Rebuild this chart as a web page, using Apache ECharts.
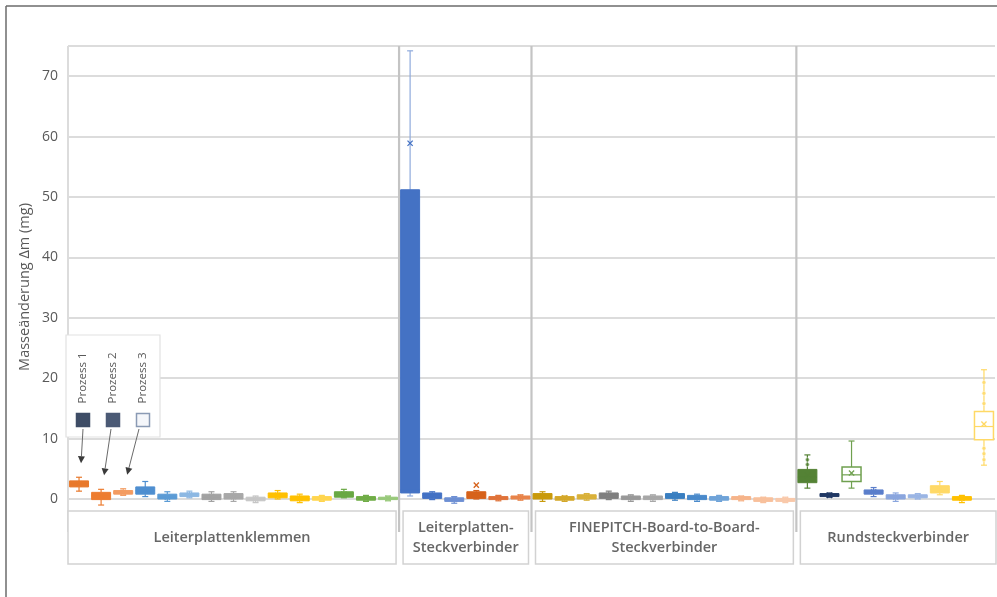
<!DOCTYPE html>
<html>
<head>
<meta charset="utf-8">
<script src="https://cdn.jsdelivr.net/npm/echarts@6/dist/echarts.min.js"></script>
<style>
  html, body { margin: 0; padding: 0; background: #ffffff; }
  #chart { width: 997px; height: 597px; }
</style>
</head>
<body>
<div id="chart"></div>
<script>
// Connector families and how many specimens (3 processes per type) each holds
const groupNames = ['Leiterplattenklemmen', 'Leiterplatten-\nSteckverbinder', 'FINEPITCH-Board-to-Board-\nSteckverbinder', 'Rundsteckverbinder'];
const groupSizes = [15, 6, 12, 9];
const processNames = ['Prozess 1', 'Prozess 2', 'Prozess 3'];
const yTicks = [0, 10, 20, 30, 40, 50, 60, 70];

// Box-plot statistics of the mass change per specimen (mg)
const boxMin    = [1.3, -1.0, 0.6, 0.4, -0.4, 0.2, -0.4, -0.4, -0.6, 0.0, -0.6, -0.4, 0.2, -0.4, -0.3,
                   0.5, -0.1, -0.7, 0.0, -0.3, -0.2,
                   -0.4, -0.4, -0.2, -0.1, -0.4, -0.4, -0.2, -0.4, -0.4, -0.3, -0.6, -0.6,
                   1.8, 0.3, 1.8, 0.4, -0.4, 0.0, 0.7, -0.6, 5.6];
const boxQ1     = [2.0, -0.1, 0.8, 0.8, 0.0, 0.4, -0.1, 0.0, -0.3, 0.2, -0.3, -0.2, 0.3, -0.2, -0.1,
                   1.0, 0.1, -0.4, 0.1, -0.1, 0.0,
                   0.0, -0.2, 0.0, 0.1, -0.1, -0.1, 0.1, -0.1, -0.2, -0.1, -0.4, -0.4,
                   2.7, 0.4, 2.9, 0.8, 0.0, 0.2, 1.0, -0.2, 9.8];
const boxMedian = [2.5, 0.5, 1.1, 1.4, 0.3, 0.7, 0.4, 0.4, 0.0, 0.6, 0.1, 0.1, 0.8, 0.1, 0.1,
                   1.5, 0.6, 0.0, 0.7, 0.2, 0.3,
                   0.5, 0.2, 0.4, 0.6, 0.2, 0.2, 0.5, 0.2, 0.1, 0.1, -0.1, -0.1,
                   3.6, 0.6, 4.0, 1.2, 0.3, 0.4, 1.6, 0.1, 12.0];
const boxQ3     = [3.0, 1.1, 1.4, 2.0, 0.8, 1.0, 0.8, 0.9, 0.3, 1.0, 0.5, 0.4, 1.2, 0.4, 0.3,
                   51.2, 1.0, 0.2, 1.2, 0.4, 0.5,
                   0.9, 0.4, 0.7, 1.0, 0.5, 0.5, 0.9, 0.6, 0.4, 0.4, 0.2, 0.1,
                   4.9, 0.9, 5.3, 1.5, 0.7, 0.7, 2.2, 0.4, 14.5];
const boxMax    = [3.6, 1.6, 1.7, 2.9, 1.2, 1.3, 1.2, 1.2, 0.5, 1.4, 0.8, 0.6, 1.6, 0.6, 0.5,
                   74.2, 1.2, 0.4, 1.4, 0.6, 0.7,
                   1.2, 0.5, 0.9, 1.3, 0.7, 0.7, 1.1, 0.8, 0.6, 0.5, 0.3, 0.3,
                   7.3, 1.0, 9.6, 1.9, 1.0, 0.9, 2.9, 0.6, 21.4];
const boxMean   = [2.5, 0.5, 1.1, 1.4, 0.3, 0.7, 0.4, 0.4, 0.0, 0.6, 0.1, 0.1, 0.8, 0.1, 0.1,
                   58.9, 0.6, 0.0, 2.3, 0.2, 0.3,
                   0.5, 0.2, 0.4, 0.6, 0.2, 0.2, 0.5, 0.2, 0.1, 0.1, -0.1, -0.1,
                   3.9, 0.6, 4.3, 1.2, 0.3, 0.4, 1.6, 0.1, 12.4];

// Individual measurements drawn on top of the whiskers: [specimen index, value]
const innerPoints = [[33, 6.5], [33, 5.7], [41, 19.3], [41, 17.5], [41, 15.8], [41, 8.4], [41, 7.5], [41, 6.5]];

// Colour of each specimen; hollow boxes are drawn as outlines only
const boxColors = ['#e8792c', '#ed7d31', '#f39c62', '#4f8fd0', '#5b9bd5', '#8db8e3',
                   '#a2a2a2', '#a8a8a8', '#c6c6c6', '#ffc000', '#ffc000', '#ffd54f',
                   '#69a843', '#70ad47', '#98c97a',
                   '#4472c4', '#4472c4', '#6d8fd3', '#d6621b', '#e0733a', '#e8844a',
                   '#c99a0c', '#d4a82a', '#d9b13a', '#7f7f7f', '#999999', '#a8a8a8',
                   '#3a7fc1', '#4a8acb', '#6fa3d8', '#f6b48a', '#f8c09c', '#f9c9aa',
                   '#548235', '#203864', '#6fa04f', '#5b7fcb', '#8aa6de', '#9ab5e4',
                   '#ffd966', '#ffc000', '#ffd966'];
const hollowBox = boxColors.map((c, i) => i === 35 || i === 41);

const specimenIds = boxMin.map((_, i) => 'P' + (i + 1));

const GRID_LEFT = 68, GRID_RIGHT = 2, GRID_TOP = 46, GRID_BOTTOM = 98;
const W = 997, H = 597;
const TEXT = '#595959';
const FONT = '"Open Sans", "Liberation Sans", sans-serif';

function renderBox(params, api) {
  const i = api.value(0);
  const x = api.coord([i, 0])[0];
  const py = k => api.coord([i, api.value(k)])[1];
  const yMin = py(1), yQ1 = py(2), yMed = py(3), yQ3 = py(4), yMax = py(5), yMean = py(6);
  const bw = api.size([1, 0])[0] * 0.86;
  const cap = 6;
  const col = boxColors[i];
  const hollow = hollowBox[i];
  const whiskerCol = i === 15 ? '#8faadc' : col;
  const line = (x1, y1, x2, y2, w, c) => ({
    type: 'line', shape: { x1, y1, x2, y2 },
    style: { stroke: c || col, lineWidth: w || 1.2 }
  });
  const m = 2.6;
  const children = [
    line(x, yMin, x, yQ1, 1.2, whiskerCol),
    line(x, yQ3, x, yMax, 1.2, whiskerCol),
    line(x - cap / 2, yMin, x + cap / 2, yMin, 1.2, whiskerCol),
    line(x - cap / 2, yMax, x + cap / 2, yMax, 1.2, whiskerCol),
    {
      type: 'rect',
      shape: { x: x - bw / 2, y: yQ3, width: bw, height: Math.max(yQ1 - yQ3, 1.5) },
      style: { fill: hollow ? '#ffffff' : col, stroke: col, lineWidth: hollow ? 1.5 : 1 }
    },
    line(x - bw / 2, yMed, x + bw / 2, yMed, 1.2),
    line(x - m, yMean - m, x + m, yMean + m, 1.3),
    line(x - m, yMean + m, x + m, yMean - m, 1.3)
  ];
  return { type: 'group', children };
}

const boxData = boxMin.map((v, i) => [i, boxMin[i], boxQ1[i], boxMedian[i], boxQ3[i], boxMax[i], boxMean[i]]);

const chart = echarts.init(document.getElementById('chart'), null, { renderer: 'canvas' });

chart.setOption({
  animation: false,
  backgroundColor: '#ffffff',
  textStyle: { fontFamily: FONT },
  grid: { left: GRID_LEFT, right: GRID_RIGHT, top: GRID_TOP, bottom: GRID_BOTTOM, containLabel: false },
  xAxis: {
    type: 'category',
    data: specimenIds,
    boundaryGap: true,
    axisLine: { show: false },
    axisTick: { show: false },
    axisLabel: { show: false },
    splitLine: { show: false }
  },
  yAxis: {
    type: 'value',
    min: yTicks[0],
    max: 75,
    interval: yTicks[1] - yTicks[0],
    axisLine: { show: false },
    axisTick: { show: false },
    axisLabel: { color: TEXT, fontSize: 14, margin: 10, showMaxLabel: false, fontFamily: FONT },
    splitLine: { show: true, lineStyle: { color: '#dcdcdc', width: 2 } }
  },
  series: [
    {
      type: 'custom',
      name: 'Masseänderung',
      renderItem: renderBox,
      clip: false,
      encode: { x: 0, y: [1, 2, 3, 4, 5] },
      data: boxData,
      z: 3
    },
    {
      type: 'scatter',
      data: innerPoints,
      symbol: 'circle',
      symbolSize: 4,
      itemStyle: {
        color: p => boxColors[p.value[0]],
        borderColor: '#ffffff', borderWidth: 0.5
      },
      z: 4
    }
  ]
});

// Layout helpers shared by the frame, group labels and annotation
const plotRight = W - GRID_RIGHT;
const catW = (plotRight - GRID_LEFT) / boxMin.length;
const yPx = v => chart.convertToPixel({ yAxisIndex: 0 }, v);
const xPx = i => chart.convertToPixel({ xAxisIndex: 0 }, i);

const g = [];

// Outer frame (top and left edges)
g.push({ type: 'line', shape: { x1: 6, y1: 6, x2: W, y2: 6 }, style: { stroke: '#6b6b6b', lineWidth: 1.5 } });
g.push({ type: 'line', shape: { x1: 6, y1: 6, x2: 6, y2: H }, style: { stroke: '#6b6b6b', lineWidth: 1.5 } });

// Plot area left edge
const plotTop = yPx(75);
const sepBottom = 532;
g.push({ type: 'line', shape: { x1: GRID_LEFT, y1: plotTop, x2: GRID_LEFT, y2: sepBottom }, style: { stroke: '#dcdcdc', lineWidth: 2 } });

// Group separators and group label boxes
let start = 0;
const boxTop = 511, boxBottom = 564;
groupSizes.forEach((n, gi) => {
  const x0 = GRID_LEFT + start * catW;
  const x1 = GRID_LEFT + (start + n) * catW;
  if (gi < groupSizes.length - 1) {
    g.push({ type: 'line', shape: { x1: x1, y1: plotTop, x2: x1, y2: sepBottom },
             style: { stroke: '#c4c4c4', lineWidth: 2.2 }, z: 2 });
  }
  const left = gi === 0 ? GRID_LEFT : x0 + 4;
  const right = gi === groupSizes.length - 1 ? W - 1 : x1 - 3;
  g.push({ type: 'rect', shape: { x: left, y: boxTop, width: right - left, height: boxBottom - boxTop },
           style: { fill: '#ffffff', stroke: '#d2d2d2', lineWidth: 1.5 }, z: 3 });
  g.push({ type: 'text', x: (left + right) / 2, y: (boxTop + boxBottom) / 2, z: 4,
           style: { text: groupNames[gi], fill: '#666666', font: '600 14.5px ' + FONT,
                    align: 'center', verticalAlign: 'middle', lineHeight: 20 } });
  start += n;
});

// Axis title
g.push({ type: 'text', x: 25, y: 287, rotation: Math.PI / 2, z: 4,
         style: { text: 'Masseänderung Δm (mg)', fill: TEXT, font: '14.5px ' + FONT,
                  align: 'center', verticalAlign: 'middle' } });

// Process key with arrows pointing at the first three specimens
const keyLeft = 66, keyTop = 335, keyRight = 160, keyBottom = 437;
g.push({ type: 'rect', shape: { x: keyLeft, y: keyTop, width: keyRight - keyLeft, height: keyBottom - keyTop },
         style: { fill: '#ffffff', stroke: '#e2e2e2', lineWidth: 1.2 }, z: 20 });
const keyX = [83, 113, 143];
const keyFill = ['#3e4d66', '#4b5a75', '#f4f6fa'];
const keyStroke = ['#3e4d66', '#4b5a75', '#8a9ab4'];
processNames.forEach((name, k) => {
  g.push({ type: 'text', x: keyX[k], y: 378, rotation: Math.PI / 2, z: 21,
           style: { text: name, fill: TEXT, font: '11.5px ' + FONT, align: 'center', verticalAlign: 'middle' } });
  g.push({ type: 'rect', shape: { x: keyX[k] - 6.5, y: 413.5, width: 13, height: 13 },
           style: { fill: keyFill[k], stroke: keyStroke[k], lineWidth: 1.5 }, z: 21 });
  const tipX = xPx(k) + 2 + k;
  const tipY = yPx(boxMax[k]) - 14;
  const sx = keyX[k] - 2 * k, sy = 429;
  const a = Math.atan2(tipY - sy, tipX - sx);
  const L = 7, hw = 3.5;
  const bx = tipX - L * Math.cos(a), by = tipY - L * Math.sin(a);
  const nx = -Math.sin(a), ny = Math.cos(a);
  g.push({ type: 'line', shape: { x1: sx, y1: sy, x2: bx, y2: by }, style: { stroke: '#6a6a6a', lineWidth: 1 }, z: 21 });
  g.push({ type: 'polygon', shape: { points: [[tipX, tipY], [bx + nx * hw, by + ny * hw], [bx - nx * hw, by - ny * hw]] },
           style: { fill: '#3a3a3a' }, z: 21 });
});

chart.setOption({ graphic: { elements: g } });
</script>
</body>
</html>
